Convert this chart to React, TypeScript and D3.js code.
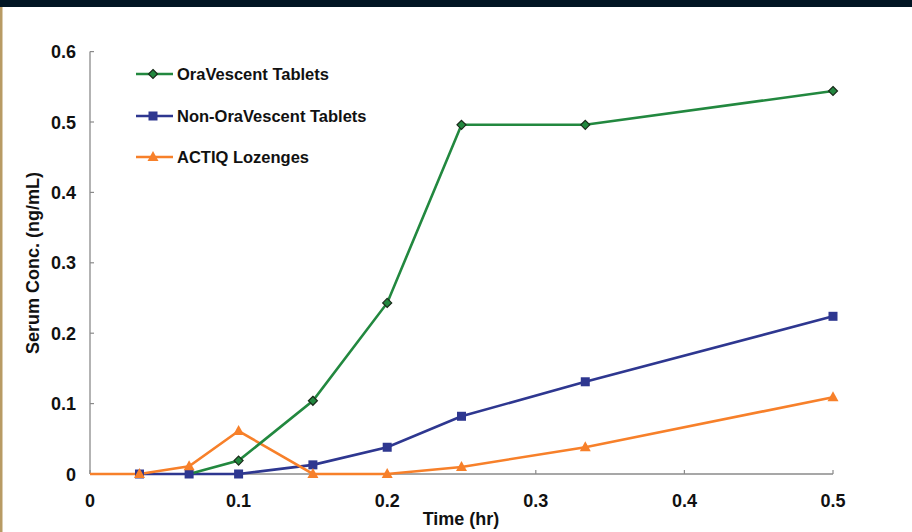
import React from "react";
import * as d3 from "d3";

const seriesNames = ["OraVescent Tablets", "Non-OraVescent Tablets", "ACTIQ Lozenges"];
const colors = ["#22883f", "#2e3790", "#f7802a"];

const oraTimes = [0.0667, 0.1, 0.15, 0.2, 0.25, 0.3333, 0.5];
const oraValues = [0, 0.019, 0.104, 0.243, 0.496, 0.496, 0.544];
const oraMarkerFrom = 1;

const nonOraTimes = [0.0333, 0.0667, 0.1, 0.15, 0.2, 0.25, 0.3333, 0.5];
const nonOraValues = [0, 0, 0, 0.013, 0.038, 0.082, 0.131, 0.224];

const actiqTimes = [0, 0.0333, 0.0667, 0.1, 0.15, 0.2, 0.25, 0.3333, 0.5];
const actiqValues = [0, 0, 0.011, 0.061, 0, 0, 0.01, 0.038, 0.109];
const actiqMarkerFrom = 1;

const xTicks = [0, 0.1, 0.2, 0.3, 0.4, 0.5];
const yTicks = [0, 0.1, 0.2, 0.3, 0.4, 0.5, 0.6];

const W = 912;
const H = 532;
const FONT = "'Liberation Sans', Arial, sans-serif";

export default function App() {
  const x = d3.scaleLinear().domain([0, 0.5]).range([90, 833]);
  const y = d3.scaleLinear().domain([0, 0.6]).range([474, 51.6]);
  const line = d3
    .line<[number, number]>()
    .x((d) => x(d[0]))
    .y((d) => y(d[1]));

  const zip = (t: number[], v: number[]) => t.map((tt, i) => [tt, v[i]] as [number, number]);
  const ora = zip(oraTimes, oraValues);
  const non = zip(nonOraTimes, nonOraValues);
  const act = zip(actiqTimes, actiqValues);

  const diamond = (cx: number, cy: number, key: string | number) => (
    <path
      key={key}
      d={`M${cx},${cy - 4.5}L${cx + 4.5},${cy}L${cx},${cy + 4.5}L${cx - 4.5},${cy}Z`}
      fill={colors[0]}
      stroke="#1a2a1a"
      strokeWidth={1.2}
    />
  );
  const square = (cx: number, cy: number, key: string | number) => (
    <rect key={key} x={cx - 4.5} y={cy - 4.5} width={9} height={9} fill={colors[1]} />
  );
  const triangle = (cx: number, cy: number, key: string | number) => (
    <path
      key={key}
      d={`M${cx},${cy - 6}L${cx + 5.5},${cy + 4}L${cx - 5.5},${cy + 4}Z`}
      fill={colors[2]}
    />
  );

  const legendY = [74, 116, 157];
  const markers = [diamond, square, triangle];

  return (
    <svg
      width={W}
      height={H}
      style={{ position: "absolute", left: 0, top: 0, display: "block", background: "#fff" }}
      fontFamily={FONT}
    >
      <rect x={0} y={0} width={W} height={H} fill="#fff" />
      <rect x={0} y={0} width={W} height={7} fill="#011523" />
      <rect x={0} y={7} width={2.5} height={H - 7} fill="#b89b64" />

      {/* axes */}
      <line x1={x(0)} x2={x(0)} y1={y(0.6)} y2={y(0)} stroke="#8a8a8a" strokeWidth={1.3} />
      <line x1={x(0)} x2={x(0.5)} y1={y(0)} y2={y(0)} stroke="#8a8a8a" strokeWidth={1.3} />
      {yTicks.map((t) => (
        <g key={"y" + t}>
          <line x1={x(0)} x2={x(0) + 4} y1={y(t)} y2={y(t)} stroke="#8a8a8a" strokeWidth={1.2} />
          <text x={76} y={y(t) + 6.5} textAnchor="end" fontSize={18} fontWeight="bold" fill="#111">
            {t === 0 ? "0" : t.toFixed(1)}
          </text>
        </g>
      ))}
      {xTicks.map((t) => (
        <g key={"x" + t}>
          <line x1={x(t)} x2={x(t)} y1={y(0)} y2={y(0) - 4} stroke="#8a8a8a" strokeWidth={1.2} />
          <text x={x(t)} y={507} textAnchor="middle" fontSize={18} fontWeight="bold" fill="#111">
            {t === 0 ? "0" : t.toFixed(1)}
          </text>
        </g>
      ))}
      <text x={461} y={525} textAnchor="middle" fontSize={18} fontWeight="bold" fill="#111">
        Time (hr)
      </text>
      <text
        transform={`translate(39,263) rotate(-90)`}
        textAnchor="middle"
        fontSize={18}
        fontWeight="bold"
        fill="#111"
      >
        Serum Conc. (ng/mL)
      </text>

      {/* series */}
      <path d={line(non) || ""} fill="none" stroke={colors[1]} strokeWidth={2.6} />
      <path d={line(act) || ""} fill="none" stroke={colors[2]} strokeWidth={2.6} />
      <path d={line(ora) || ""} fill="none" stroke={colors[0]} strokeWidth={2.6} />
      {non.map((d, i) => square(x(d[0]), y(d[1]), "s" + i))}
      {act.slice(actiqMarkerFrom).map((d, i) => triangle(x(d[0]), y(d[1]), "t" + i))}
      {ora.slice(oraMarkerFrom).map((d, i) => diamond(x(d[0]), y(d[1]), "d" + i))}

      {/* legend */}
      {seriesNames.map((name, i) => (
        <g key={name}>
          <line x1={136} x2={173} y1={legendY[i]} y2={legendY[i]} stroke={colors[i]} strokeWidth={2.6} />
          {markers[i](153, legendY[i], "lm" + i)}
          <text x={177} y={legendY[i] + 6} fontSize={16.5} fontWeight="bold" fill="#111">
            {name}
          </text>
        </g>
      ))}
    </svg>
  );
}
